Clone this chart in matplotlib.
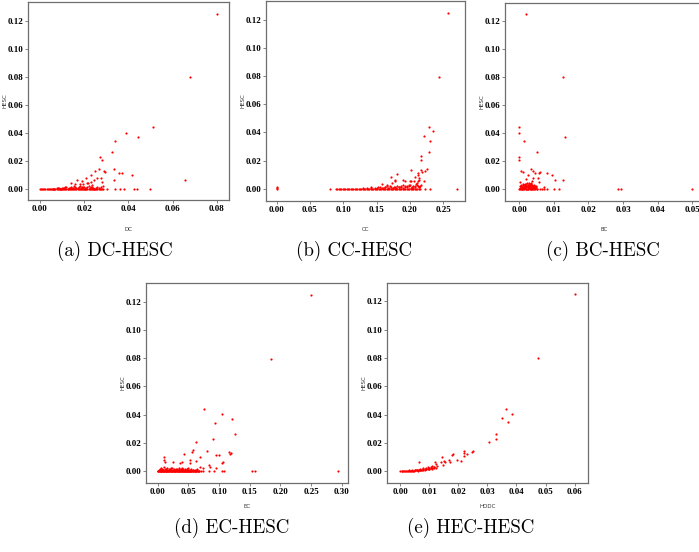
import numpy as np
import matplotlib.pyplot as plt

# ------------------------------------------------------------
#  centrality vs HESC, one scatter per measure
# ------------------------------------------------------------

# DC
dc_x = [0.080, 0.068, 0.051, 0.0388, 0.0443, 0.0339, 0.0324, 0.0273, 0.0280, 0.0335,
        0.0266, 0.0251, 0.0288, 0.0295, 0.0357, 0.0371, 0.0415, 0.0656, 0.0335, 0.0232,
        0.0259, 0.0276, 0.0209, 0.0243, 0.0229, 0.0190, 0.0169, 0.0211, 0.0219, 0.0282,
        0.0285, 0.0236, 0.0142, 0.0157, 0.0180, 0.0195,
        0.006, 0.008, 0.009, 0.010, 0.011, 0.012, 0.013, 0.014, 0.015, 0.016,
        0.017, 0.018, 0.019, 0.020, 0.021, 0.022, 0.023, 0.024, 0.026,
        0.0065, 0.0075, 0.0085, 0.0095, 0.0105, 0.0115, 0.0125, 0.0135, 0.0145, 0.0155,
        0.0165, 0.0175, 0.0185, 0.0195, 0.0205, 0.0215, 0.0225, 0.0235, 0.0245, 0.0255,
        0.0265, 0.0275]
dc_y = [0.125, 0.080, 0.044, 0.0403, 0.0374, 0.0346, 0.0265, 0.0232, 0.0206, 0.0144,
        0.0143, 0.0132, 0.0131, 0.0124, 0.0117, 0.0118, 0.0102, 0.0065, 0.0064, 0.0103,
        0.0079, 0.0079, 0.0079, 0.0066, 0.0052, 0.0060, 0.0066, 0.0048, 0.0045, 0.0052,
        0.0021, 0.0031, 0.0045, 0.0036, 0.0036, 0.0036,
        0.0004, 0.0008, 0.0005, 0.0012, 0.0007, 0.0015, 0.0009, 0.0020, 0.0011, 0.0017,
        0.0008, 0.0022, 0.0013, 0.0018, 0.0010, 0.0025, 0.0014, 0.0008, 0.0016,
        0.0003, 0.0006, 0.0010, 0.0004, 0.0008, 0.0016, 0.0005, 0.0012, 0.0009, 0.0024,
        0.0006, 0.0014, 0.0010, 0.0019, 0.0005, 0.0013, 0.0008, 0.0020, 0.0004, 0.0011,
        0.0007, 0.0015]
dc_zero = [0.0000, 0.0005, 0.0010, 0.0015, 0.0020, 0.0025, 0.0030, 0.0035, 0.0040, 0.0045,
           0.0050, 0.0055, 0.0060, 0.0065, 0.0070, 0.0075, 0.0080, 0.0085, 0.0090, 0.0095,
           0.0100, 0.0105, 0.0110, 0.0115, 0.0120, 0.0125, 0.0130, 0.0135, 0.0140, 0.0145,
           0.0150, 0.0155, 0.0160, 0.0165, 0.0170, 0.0175, 0.0180, 0.0185, 0.0190, 0.0195,
           0.0200, 0.0205, 0.0210, 0.0215, 0.0220, 0.0225, 0.0230, 0.0235, 0.0240, 0.0245,
           0.0250, 0.0255, 0.0260, 0.0265, 0.0270, 0.0275, 0.0280, 0.0285,
           0.0305, 0.0341, 0.0360, 0.0378, 0.0425, 0.0437, 0.0498]

# CC
cc_x = [0.2575, 0.243, 0.2285, 0.235, 0.2208, 0.2293, 0.2283, 0.2168, 0.2168, 0.225,
        0.217, 0.2185, 0.222, 0.201, 0.2115, 0.2115, 0.1805, 0.171, 0.208, 0.213,
        0.190, 0.192, 0.177, 0.177, 0.200, 0.202, 0.206, 0.212, 0.214, 0.221,
        0.1575, 0.1655, 0.173, 0.141, 0.0, 0.0,
        0.150, 0.155, 0.160, 0.163, 0.167, 0.170, 0.174, 0.178, 0.181, 0.184,
        0.187, 0.190, 0.193, 0.196, 0.199, 0.201, 0.204, 0.207, 0.209, 0.212,
        0.214, 0.216, 0.210,
        0.130, 0.136, 0.142, 0.148, 0.152, 0.158, 0.162, 0.166, 0.169, 0.172,
        0.176, 0.179, 0.183, 0.186, 0.189, 0.192, 0.195, 0.198, 0.200, 0.203,
        0.205, 0.208, 0.211, 0.213, 0.215]
cc_y = [0.125, 0.0797, 0.0441, 0.0407, 0.0375, 0.0342, 0.0262, 0.0229, 0.0203, 0.0139,
        0.0132, 0.0121, 0.0126, 0.0130, 0.0114, 0.0100, 0.0105, 0.0081, 0.0084, 0.0074,
        0.0064, 0.0055, 0.0064, 0.0055, 0.0057, 0.0055, 0.0057, 0.0056, 0.0064, 0.0057,
        0.0036, 0.0024, 0.0038, 0.0014, 0.0014, 0.0008,
        0.0006, 0.0010, 0.0005, 0.0014, 0.0008, 0.0016, 0.0006, 0.0012, 0.0020, 0.0009,
        0.0015, 0.0024, 0.0011, 0.0019, 0.0028, 0.0008, 0.0021, 0.0013, 0.0030, 0.0017,
        0.0009, 0.0024, 0.0042,
        0.0004, 0.0006, 0.0003, 0.0008, 0.0012, 0.0004, 0.0009, 0.0018, 0.0005, 0.0011,
        0.0015, 0.0007, 0.0013, 0.0022, 0.0006, 0.0016, 0.0010, 0.0019, 0.0025, 0.0013,
        0.0008, 0.0021, 0.0026, 0.0012, 0.0018]
cc_zero = [0.0, 0.080,
           0.089, 0.091, 0.093, 0.095, 0.097, 0.099, 0.101, 0.103, 0.105, 0.107,
           0.109, 0.111, 0.113, 0.115, 0.117, 0.119, 0.121, 0.123, 0.125, 0.127,
           0.129, 0.131, 0.133, 0.135, 0.137, 0.139, 0.141, 0.143, 0.145, 0.147,
           0.149, 0.151, 0.153, 0.155, 0.157, 0.159, 0.161, 0.163, 0.165, 0.167,
           0.169, 0.171, 0.173, 0.175, 0.177, 0.179, 0.181, 0.183, 0.185, 0.187,
           0.189, 0.191, 0.193, 0.195, 0.197, 0.199, 0.201, 0.203, 0.205, 0.207,
           0.209, 0.211, 0.213, 0.2155, 0.223, 0.2305, 0.271]

# BC
bc_x = [0.0019, 0.0126, 0.0, 0.0, 0.0133, 0.0014, 0.0052, 0.0, 0.0, 0.0005,
        0.0011, 0.0033, 0.0039, 0.0045, 0.0056, 0.0059, 0.0079, 0.0094, 0.0025, 0.0055,
        0.0056, 0.0103, 0.0126, 0.0041, 0.0036, 0.0020, 0.0034, 0.0022, 0.0002, 0.0073,
        0.0003, 0.0006, 0.0008, 0.0010, 0.0012, 0.0014, 0.0016, 0.0018, 0.0020, 0.0022,
        0.0024, 0.0026, 0.0028, 0.0030, 0.0032, 0.0034, 0.0036, 0.0038, 0.0040, 0.0042,
        0.0044, 0.0046, 0.0048, 0.0050, 0.0008, 0.0017, 0.0029, 0.0012, 0.0005,
        0.0001, 0.0004, 0.0007, 0.0009, 0.0011, 0.0013, 0.0015, 0.0017, 0.0019, 0.0021,
        0.0023, 0.0025, 0.0027, 0.0029, 0.0031, 0.0033, 0.0035, 0.0037, 0.0039, 0.0041,
        0.0043, 0.0045, 0.0047, 0.0049, 0.0002, 0.0010, 0.0019, 0.0027, 0.0035, 0.0044]
bc_y = [0.125, 0.0798, 0.0442, 0.0404, 0.0372, 0.0345, 0.0264, 0.0231, 0.0206, 0.0133,
        0.0123, 0.0143, 0.0133, 0.0118, 0.0118, 0.0122, 0.0114, 0.0102, 0.0102, 0.0078,
        0.0055, 0.0064, 0.0064, 0.0083, 0.0062, 0.0071, 0.0048, 0.0043, 0.0055, 0.0019,
        0.0010, 0.0025, 0.0015, 0.0035, 0.0008, 0.0020, 0.0030, 0.0012, 0.0024, 0.0006,
        0.0033, 0.0017, 0.0027, 0.0010, 0.0021, 0.0036, 0.0014, 0.0028, 0.0007, 0.0019,
        0.0031, 0.0012, 0.0024, 0.0006, 0.0004, 0.0040, 0.0042, 0.0028, 0.0018,
        0.0022, 0.0032, 0.0006, 0.0020, 0.0014, 0.0032, 0.0009, 0.0022, 0.0036, 0.0015,
        0.0026, 0.0004, 0.0036, 0.0018, 0.0030, 0.0008, 0.0024, 0.0006, 0.0019, 0.0027,
        0.0011, 0.0022, 0.0008, 0.0016, 0.0004, 0.0013, 0.0005, 0.0013, 0.0002, 0.0003]
bc_zero = [0.0, 0.0005, 0.0010, 0.0015, 0.0020, 0.0025, 0.0030, 0.0035, 0.0040, 0.0045,
           0.0050, 0.0059, 0.0066, 0.0073, 0.0079, 0.0101, 0.0115, 0.0285, 0.0294, 0.0499]

# EC
ec_x = [0.2492, 0.1842, 0.0755, 0.1048, 0.1208, 0.0931, 0.1261, 0.0896, 0.0620, 0.0796,
        0.0953, 0.0991, 0.0569, 0.0552, 0.1164, 0.1197, 0.1181, 0.0433, 0.0617, 0.0688,
        0.0530, 0.0520, 0.1056, 0.1045, 0.0102, 0.0102, 0.0123, 0.0252, 0.0371, 0.0393,
        0.0829, 0.0856, 0.0693, 0.0742, 0.0943,
        0.002, 0.004, 0.006, 0.008, 0.010, 0.012, 0.014, 0.016, 0.018, 0.020,
        0.022, 0.024, 0.026, 0.028, 0.030, 0.032, 0.034, 0.036, 0.038, 0.040,
        0.042, 0.044, 0.046, 0.048, 0.050, 0.052, 0.055, 0.058, 0.061, 0.064,
        0.001, 0.003, 0.005, 0.007, 0.009, 0.011, 0.013, 0.015, 0.017, 0.019,
        0.021, 0.023, 0.025, 0.027, 0.029, 0.031, 0.033, 0.035, 0.037, 0.039,
        0.041, 0.043, 0.045, 0.047, 0.049, 0.051, 0.053, 0.057, 0.060, 0.063]
ec_y = [0.1249, 0.0797, 0.0442, 0.0402, 0.0372, 0.0345, 0.0266, 0.0231, 0.0207, 0.0146,
        0.0118, 0.0114, 0.0148, 0.0134, 0.0137, 0.0130, 0.0123, 0.0125, 0.0075, 0.0104,
        0.0083, 0.0059, 0.0066, 0.0059, 0.0101, 0.0078, 0.0069, 0.0066, 0.0061, 0.0068,
        0.0047, 0.0031, 0.0028, 0.0024, 0.0024,
        0.0012, 0.0006, 0.0020, 0.0009, 0.0028, 0.0014, 0.0005, 0.0022, 0.0010, 0.0017,
        0.0006, 0.0025, 0.0012, 0.0008, 0.0019, 0.0010, 0.0026, 0.0007, 0.0015, 0.0022,
        0.0009, 0.0017, 0.0005, 0.0013, 0.0021, 0.0008, 0.0015, 0.0006, 0.0011, 0.0019,
        0.0004, 0.0016, 0.0003, 0.0013, 0.0007, 0.0004, 0.0019, 0.0008, 0.0004, 0.0013,
        0.0020, 0.0003, 0.0007, 0.0016, 0.0004, 0.0014, 0.0005, 0.0018, 0.0003, 0.0009,
        0.0014, 0.0004, 0.0011, 0.0019, 0.0004, 0.0010, 0.0003, 0.0012, 0.0004, 0.0007]
ec_zero = [0.000, 0.001, 0.002, 0.003, 0.004, 0.005, 0.006, 0.007, 0.008, 0.009,
           0.010, 0.011, 0.012, 0.013, 0.014, 0.015, 0.016, 0.017, 0.018, 0.019,
           0.020, 0.021, 0.022, 0.023, 0.024, 0.025, 0.026, 0.027, 0.028, 0.029,
           0.030, 0.031, 0.032, 0.033, 0.034, 0.035, 0.036, 0.037, 0.038, 0.039,
           0.040, 0.041, 0.042, 0.043, 0.044, 0.045, 0.046, 0.047, 0.048, 0.049,
           0.050, 0.051, 0.052, 0.053, 0.054, 0.055, 0.056, 0.057, 0.058, 0.059,
           0.060, 0.061, 0.062, 0.063, 0.064, 0.065, 0.066, 0.067, 0.068,
           0.0698, 0.0736, 0.0839, 0.0920, 0.1045, 0.1077, 0.1540, 0.1578, 0.2940]

# HODC
hodc_x = [0.0600, 0.0473, 0.0365, 0.0385, 0.0349, 0.0372, 0.0330, 0.0329, 0.0305, 0.0252,
          0.0246, 0.0229, 0.0219, 0.0221, 0.0220, 0.0209, 0.0197, 0.0181, 0.0179, 0.0167,
          0.0170, 0.0152, 0.0154, 0.0143, 0.0139, 0.0147, 0.0121, 0.0124, 0.0126, 0.0118,
          0.0110, 0.0066,
          0.0000, 0.0005, 0.0010, 0.0015, 0.0020, 0.0025, 0.0030, 0.0035, 0.0040, 0.0045,
          0.0050, 0.0055, 0.0060, 0.0065, 0.0070, 0.0075, 0.0080, 0.0085, 0.0090, 0.0095,
          0.0100, 0.0105, 0.0110, 0.0115,
          0.0030, 0.0050, 0.0070, 0.0080, 0.0090, 0.0095, 0.0105, 0.0062, 0.0085, 0.0100,
          0.0008, 0.0018, 0.0028, 0.0038, 0.0048, 0.0058, 0.0068, 0.0078, 0.0088, 0.0098,
          0.0108, 0.0118, 0.0125, 0.0042, 0.0058, 0.0072]
hodc_y = [0.1252, 0.0798, 0.0442, 0.0402, 0.0373, 0.0347, 0.0266, 0.0231, 0.0207, 0.0146,
          0.0137, 0.0125, 0.0146, 0.0127, 0.0107, 0.0071, 0.0083, 0.0125, 0.0118, 0.0080,
          0.0068, 0.0071, 0.0066, 0.0103, 0.0064, 0.0043, 0.0066, 0.0052, 0.0038, 0.0031,
          0.0036, 0.0066,
          0.0000, 0.0000, 0.0001, 0.0001, 0.0002, 0.0002, 0.0003, 0.0004, 0.0005, 0.0005,
          0.0007, 0.0006, 0.0009, 0.0010, 0.0011, 0.0012, 0.0014, 0.0015, 0.0018, 0.0019,
          0.0022, 0.0023, 0.0025, 0.0027,
          0.0008, 0.0012, 0.0016, 0.0022, 0.0024, 0.0030, 0.0032, 0.0004, 0.0009, 0.0016,
          0.0000, 0.0001, 0.0002, 0.0003, 0.0005, 0.0006, 0.0008, 0.0011, 0.0013, 0.0016,
          0.0018, 0.0022, 0.0025, 0.0008, 0.0010, 0.0007]
hodc_zero = []

# ------------------------------------------------------------
#  layout (pixel boxes: left, top, right, bottom)
# ------------------------------------------------------------
W, H = 699, 552

panels = [
    # name, x, y, zero-row, box, xlim, ylim, xticks, caption, caption center, xlabel y
    ('DC', dc_x, dc_y, dc_zero, (28, 2, 229, 200), (-0.0054, 0.0855), (-0.0076, 0.1333),
     np.arange(0, 0.081, 0.02), '(a) DC-HESC', (115, 251), -0.135),
    ('CC', cc_x, cc_y, cc_zero, (266, 1, 465, 201), (-0.016, 0.2825), (-0.0088, 0.1336),
     np.arange(0, 0.251, 0.05), '(b) CC-HESC', (354, 251), -0.13),
    ('BC', bc_x, bc_y, bc_zero, (505, 3, 703, 201), (-0.0041, 0.0531), (-0.0083, 0.1328),
     np.arange(0, 0.051, 0.01), '(c) BC-HESC', (603, 251), -0.13),
    ('EC', ec_x, ec_y, ec_zero, (146, 283, 348, 483), (-0.019, 0.31), (-0.0083, 0.1332),
     np.arange(0, 0.301, 0.05), '(d) EC-HESC', (232, 528), -0.105),
    ('HODC', hodc_x, hodc_y, hodc_zero, (387, 283, 588, 483), (-0.0045, 0.0646), (-0.0083, 0.133),
     np.arange(0, 0.061, 0.01), '(e) HEC-HESC', (471, 528), -0.105),
]

yticks = np.arange(0, 0.121, 0.02)
spine_col = '#6e6e6e'

fig = plt.figure(figsize=(W / 100, H / 100), dpi=100)

for name, xs, ys, zero, box, xlim, ylim, xticks, caption, cpos, xlab_y in panels:
    l, t, r, b = box
    ax = fig.add_axes([l / W, 1 - b / H, (r - l) / W, (b - t) / H])
    ax.scatter(xs, ys, s=2.5, c='red', linewidths=0, zorder=3)
    ax.scatter(zero, np.zeros(len(zero)), s=2.5, c='red', linewidths=0, zorder=3)
    ax.set_xlim(*xlim)
    ax.set_ylim(*ylim)
    ax.set_xticks(xticks)
    ax.set_yticks(yticks)
    ax.set_xticklabels(['%.2f' % v for v in xticks])
    ax.set_yticklabels(['%.2f' % v for v in yticks])
    for lab in ax.get_xticklabels() + ax.get_yticklabels():
        lab.set_fontfamily('Liberation Serif')
        lab.set_fontweight('bold')
        lab.set_fontsize(6.5)
        lab.set_color('black')
    ax.tick_params(length=2, width=0.6, pad=1.5, color=spine_col)
    for sp in ax.spines.values():
        sp.set_color(spine_col)
        sp.set_linewidth(0.9)
    ax.set_xlabel(name, fontsize=4, color='#333333')
    ax.set_ylabel('HESC', fontsize=4, color='#333333')
    ax.xaxis.set_label_coords(0.5, xlab_y)
    ax.yaxis.set_label_coords(-0.103, 0.5)
    fig.text(cpos[0] / W, 1 - cpos[1] / H, caption, fontfamily='cmr10',
             fontsize=13.6, ha='center', va='center')

fig.savefig('out.png', dpi=100)
